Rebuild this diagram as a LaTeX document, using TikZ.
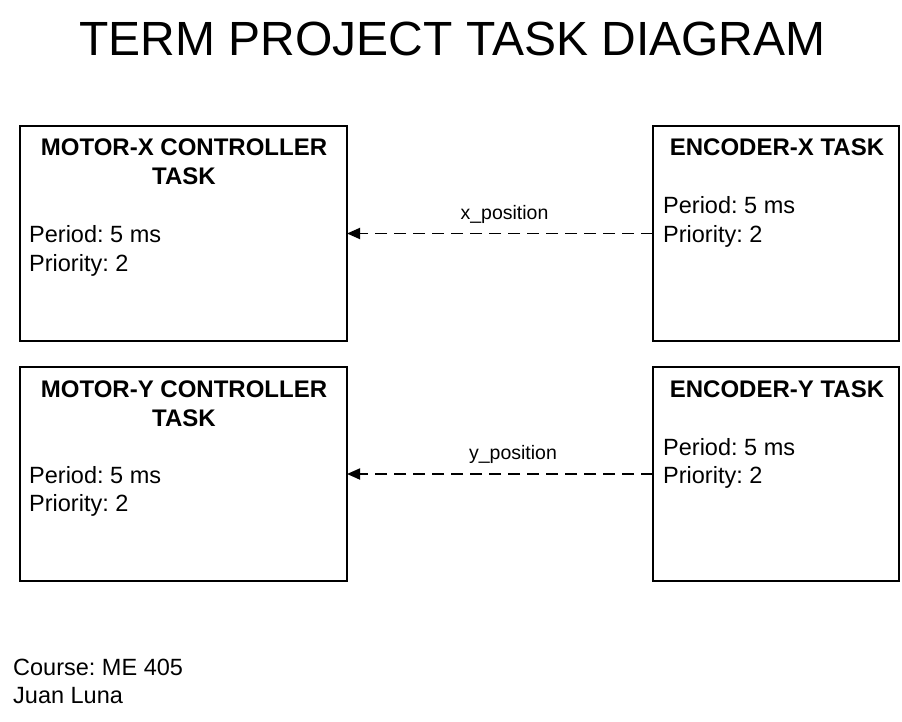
\documentclass[tikz,border=0pt]{standalone}
\usepackage{fontspec}
\setmainfont{Liberation Sans}
\usetikzlibrary{arrows.meta}
\frenchspacing
\begin{document}
\begin{tikzpicture}[x=1pt,y=-1pt,
  taskbox/.style={draw=black,line width=1.8pt,minimum width=#1,inner sep=0pt,outer sep=0pt},
  boxtitle/.style={anchor=base,font=\fontsize{24}{28}\selectfont\bfseries,inner sep=0pt},
  bodytxt/.style={anchor=base west,font=\fontsize{23.5}{28}\selectfont,inner sep=0pt},
  lbl/.style={anchor=base,font=\fontsize{19.5}{23}\selectfont,inner sep=0pt},
  flow/.style={line width=1.8pt,dash pattern=on 12pt off 7pt,-{Triangle[length=13pt,width=11pt]}}]
\useasboundingbox (0,0) rectangle (902,722);
% boxes
\node[taskbox=327pt,minimum height=215pt] (mx) at (183.5,233.5) {};
\node[taskbox=246pt,minimum height=215pt] (ex) at (776,233.5) {};
\node[taskbox=327pt,minimum height=214pt] (my) at (183.5,474) {};
\node[taskbox=246pt,minimum height=214pt] (ey) at (776,474) {};
% title
\node[anchor=base,font=\fontsize{48}{58}\selectfont,inner sep=0pt] (title) at (452.5,56) {TERM PROJECT TASK DIAGRAM};
% motor x
\node[boxtitle] (mxt1) at (184,156) {MOTOR-X CONTROLLER};
\node[boxtitle] (mxt2) at (184,185) {TASK};
\node[bodytxt] (mxb1) at (29,243) {Period: 5 ms};
\node[bodytxt] (mxb2) at (29,271) {Priority: 2};
% encoder x
\node[boxtitle] (ext1) at (777,156) {ENCODER-X TASK};
\node[bodytxt] (exb1) at (663,214) {Period: 5 ms};
\node[bodytxt] (exb2) at (663,243) {Priority: 2};
% motor y
\node[boxtitle] (myt1) at (184,397) {MOTOR-Y CONTROLLER};
\node[boxtitle] (myt2) at (184,426) {TASK};
\node[bodytxt] (myb1) at (29,483) {Period: 5 ms};
\node[bodytxt] (myb2) at (29,511) {Priority: 2};
% encoder y
\node[boxtitle] (eyt1) at (777,397) {ENCODER-Y TASK};
\node[bodytxt] (eyb1) at (663,455) {Period: 5 ms};
\node[bodytxt] (eyb2) at (663,483) {Priority: 2};
% connectors
\draw[flow] (ex.west) -- (mx.east);
\draw[flow] (ey.west) -- (my.east);
\node[lbl] (xl) at (504.5,220) {x\_position};
\node[lbl] (yl) at (513,459) {y\_position};
% footer
\node[bodytxt] (f1) at (13,675) {Course: ME 405};
\node[bodytxt] (f2) at (13,703) {Juan Luna};
\end{tikzpicture}
\end{document}
